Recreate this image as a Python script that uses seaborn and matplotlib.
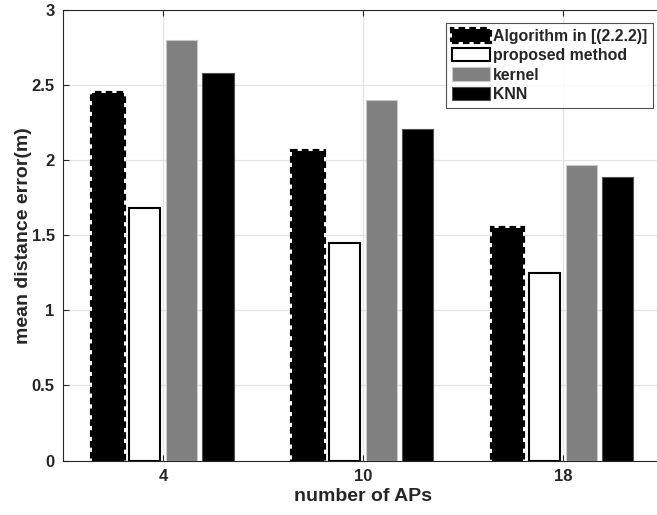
import numpy as np
import pandas as pd
import matplotlib
matplotlib.use("Agg")
import matplotlib.pyplot as plt
from matplotlib.patches import Patch
import seaborn as sns

# values
aps = ["4", "10", "18"]
methods = ["Algorithm in [(2.2.2)]", "proposed method", "kernel", "KNN"]
alg_222 = [2.45, 2.06, 1.55]
proposed = [1.68, 1.45, 1.25]
kernel = [2.80, 2.40, 1.97]
knn = [2.58, 2.21, 1.89]

df = pd.DataFrame({
    "aps": aps * 4,
    "method": np.repeat(methods, 3),
    "err": alg_222 + proposed + kernel + knn,
})

sns.set_style("white")
plt.rcParams["font.family"] = ["Liberation Sans", "DejaVu Sans"]
plt.rcParams["font.weight"] = "bold"

fig = plt.figure(figsize=(6.57, 5.15), dpi=100)
ax = fig.add_axes([0.0959, 0.1058, 0.913, 0.874])

sns.barplot(data=df, x="aps", y="err", hue="method", order=aps,
            hue_order=methods, width=0.733, gap=0.15, ax=ax, legend=False)

# MATLAB-like styles for each series
styles = [
    dict(facecolor="black", edgecolor="black", linewidth=3, linestyle=(0, (1.6, 1.0))),
    dict(facecolor="white", edgecolor="black", linewidth=1.5, linestyle="-"),
    dict(facecolor="#808080", edgecolor="#c8c8c8", linewidth=0.8, linestyle="-"),
    dict(facecolor="black", edgecolor="#505050", linewidth=0.8, linestyle="-"),
]
for cont, st in zip(ax.containers, styles):
    for bar in cont:
        bar.set_facecolor(st["facecolor"])
        bar.set_edgecolor(st["edgecolor"])
        bar.set_linewidth(st["linewidth"])
        bar.set_linestyle(st["linestyle"])
        bar.set_zorder(3)

ax.set_xlim(-0.5, 2.5)
ax.set_ylim(0, 3)
ax.set_yticks([0, 0.5, 1, 1.5, 2, 2.5, 3])
ax.set_yticklabels(["0", "0.5", "1", "1.5", "2", "2.5", "3"])
ax.grid(True, color="#e3e3e3", linewidth=0.9, zorder=0)
ax.set_axisbelow(True)
ax.tick_params(direction="in", length=4, width=0.8, colors="#262626",
               labelsize=12, top=True, right=True, left=True, bottom=True, pad=6)
for lab in ax.get_xticklabels() + ax.get_yticklabels():
    lab.set_fontweight("bold")
for sp in ax.spines.values():
    sp.set_color("#262626")
    sp.set_linewidth(0.8)

ax.set_xlabel("number of APs", fontsize=14, fontweight="bold", color="#262626", labelpad=3)
ax.set_ylabel("mean distance error(m)", fontsize=14, fontweight="bold", color="#262626", labelpad=0)

handles = [Patch(facecolor=st["facecolor"], edgecolor=st["edgecolor"],
                 linewidth=st["linewidth"] if i != 3 else 0.8,
                 linestyle=st["linestyle"]) for i, st in enumerate(styles)]
leg = ax.legend(handles, methods, loc="upper right", bbox_to_anchor=(0.983, 0.972),
                prop={"weight": "bold", "size": 11.4}, frameon=True,
                fancybox=False, handlelength=2.4, handleheight=0.9,
                handletextpad=0.2, labelspacing=0.28, borderpad=0.35,
                borderaxespad=0.0)
leg.get_frame().set_edgecolor("#262626")
leg.get_frame().set_linewidth(0.8)

fig.savefig("out.png", dpi=100)
